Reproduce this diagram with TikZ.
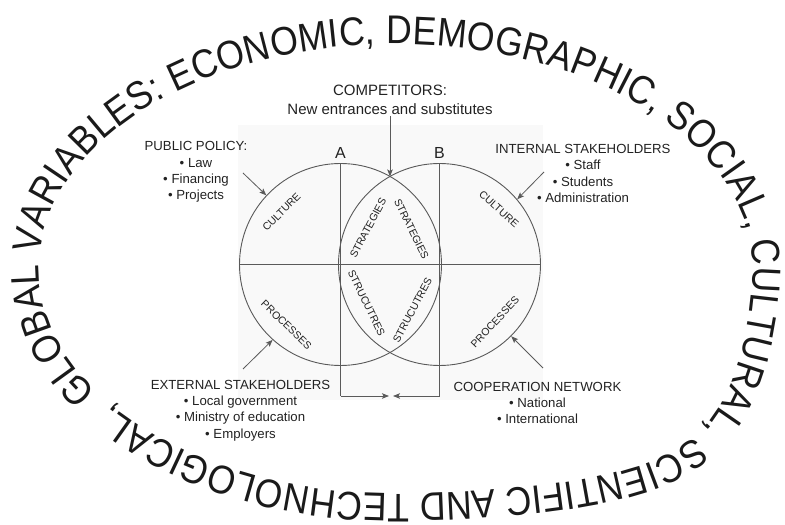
\documentclass[tikz,border=0pt]{standalone}
\usepackage{fontspec}
\setmainfont{Liberation Sans}
\newfontfamily\arcfont[FakeStretch=0.89]{Liberation Sans}
\usetikzlibrary{decorations.text,arrows.meta}
\definecolor{ink}{HTML}{222222}
\definecolor{ringink}{HTML}{1A1A1A}
\definecolor{linegray}{HTML}{5A5A5A}
\definecolor{bggray}{HTML}{F9F9F9}
\begin{document}
\begin{tikzpicture}[x=1pt,y=1pt,
  declare function={
    nn(\t)=2+2*max(0,cos(\t))*max(0,-sin(\t));
    sx(\t)=396+357*sign(cos(\t))*pow(abs(cos(\t))+0.00001,2/nn(\t));
    sy(\t)=256+225*sign(sin(\t))*pow(abs(sin(\t))+0.00001,2/nn(\t));
  },
  ring/.style={line width=0.9pt, draw=linegray},
  arr/.style={-{Stealth[length=7pt,width=5.5pt,inset=1.5pt]}, draw=linegray, line width=0.8pt},
  lbl/.style={font=\fontsize{13.2}{16.3}\selectfont, align=center, text=ink, inner sep=1pt},
  inlbl/.style={font=\fontsize{10.5}{12}\selectfont, text=ink, inner sep=0pt},
  letter/.style={font=\fontsize{16}{18}\selectfont, text=ink, inner sep=0pt}]
\useasboundingbox (0,0) rectangle (785,525);
\fill[bggray] (238,125) rectangle (543,400);

% ring text
\path[decorate, decoration={text along path, text align={fit to path},
  text={|\arcfont\fontsize{40}{40}\selectfont\color{ringink}|GLOBAL VARIABLES: ECONOMIC, DEMOGRAPHIC, SOCIAL, CULTURAL, SCIENTIFIC AND TECHNOLOGICAL,}}]
  plot[domain=0:356, samples=360, variable=\s] ({sx(213-\s)},{sy(213-\s)});

% circles
\node[circle, ring, minimum size=202pt, inner sep=0pt] (A) at (340.5,260.5) {};
\node[circle, ring, minimum size=202pt, inner sep=0pt] (B) at (439.5,260.5) {};
\draw[ring] (A.west) -- (B.east);

\coordinate (Abot) at (340.5,129);
\coordinate (Bbot) at (439.5,129);
\coordinate (meetL) at (389,129);
\coordinate (meetR) at (393,129);
\coordinate (top) at (390,348.5);
\draw[ring] (A.north) -- (Abot);
\draw[ring] (B.north) -- (Bbot);
\draw[arr] (Abot) -- (meetL);
\draw[arr] (Bbot) -- (meetR);

\node[letter, anchor=south] (la) at (340.5,366) {A};
\node[letter, anchor=south] (lb) at (439.5,366) {B};

% competitors
\node[font=\fontsize{15}{19.5}\selectfont, align=center, text=ink, inner sep=1pt, anchor=south] (comp) at (390,409) {COMPETITORS:\\New entrances and substitutes};
\draw[arr] (comp.south -| top) -- (top);

% side labels
\node[lbl] (pp) at (196,353) {PUBLIC POLICY:\\• Law\\• Financing\\• Projects};
\node[lbl] (in) at (583,351.5) {INTERNAL STAKEHOLDERS\\• Staff\\• Students\\• Administration};
\node[lbl] (ex) at (240.5,114.5) {EXTERNAL STAKEHOLDERS\\• Local government\\• Ministry of education\\• Employers};
\node[lbl] (co) at (537.5,122) {COOPERATION NETWORK\\• National\\• International};

\coordinate (ppS) at (243,352);
\coordinate (inS) at (544,353);
\coordinate (exS) at (243,156);
\coordinate (coS) at (543,157);
\draw[arr] (ppS) -- (A.137);
\draw[arr] (inS) -- (B.40);
\draw[arr] (exS) -- (A.228);
\draw[arr] (coS) -- (B.315);

% inner labels
\node[inlbl, rotate=45] (cA) at (281.5,313) {CULTURE};
\node[inlbl, rotate=62] (sA) at (368,297) {STRATEGIES};
\node[inlbl, rotate=-64] (sB) at (411.5,296) {STRATEGIES};
\node[inlbl, rotate=-64] (tA) at (366.5,222) {STRUCUTRES};
\node[inlbl, rotate=62] (tB) at (412.5,215) {STRUCUTRES};
\node[inlbl, rotate=-44] (pA) at (286.5,200) {PROCESSES};
\node[inlbl, rotate=-42] (cB) at (499,316) {CULTURE};
\node[inlbl, rotate=47] (pB) at (495,203) {PROCESSES};
\end{tikzpicture}
\end{document}
